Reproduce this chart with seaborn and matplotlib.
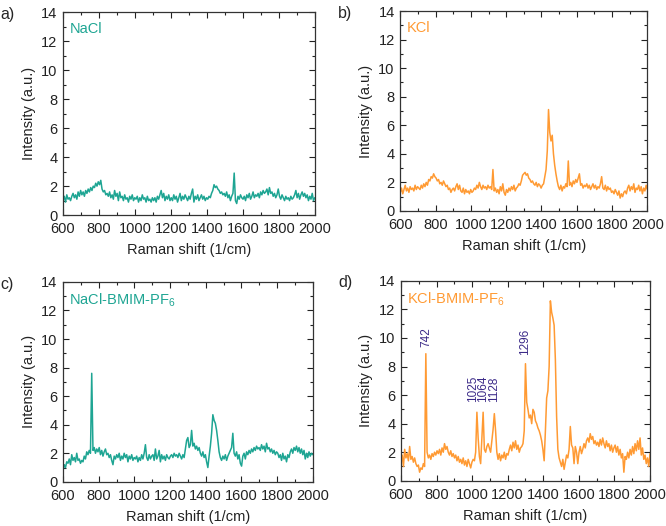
import numpy as np
import pandas as pd
import matplotlib
matplotlib.use("Agg")
import matplotlib.pyplot as plt
import seaborn as sns
from matplotlib.ticker import MultipleLocator

# Raman spectra (600-2000 1/cm, ~7 1/cm steps)
nacl = [1.0, 1.3, 0.9, 1.4, 1.1, 1.2, 1.0, 1.3, 1.5, 1.2, 1.4, 1.1, 1.6, 1.3, 1.7,
        1.4, 1.6, 1.3, 1.7, 1.5, 1.8, 1.6, 1.9, 1.7, 2.0, 1.9, 2.2, 2.0, 2.3,
        2.1, 2.4, 1.8, 1.6, 1.7, 1.4, 1.5, 1.3, 1.6, 1.2, 1.4, 1.1, 1.7, 1.3,
        1.5, 1.0, 1.6, 1.2, 1.3, 1.0, 1.4, 1.1, 1.2, 0.9, 1.3, 1.1, 1.4, 1.0, 1.2,
        1.1, 1.3, 0.9, 1.2, 1.0, 1.4, 1.1, 1.2, 0.9, 1.3, 1.0, 1.1, 0.9, 1.2,
        1.0, 1.2, 0.9, 1.3, 1.1, 1.4, 1.7, 1.2, 1.5, 1.0, 1.3, 1.1, 1.4, 1.0,
        1.2, 1.0, 1.4, 1.1, 1.3, 0.9, 1.2, 1.5, 1.0, 1.3, 1.1, 1.4, 1.2, 1.0, 1.3,
        1.1, 1.5, 1.8, 0.9, 1.3, 1.1, 1.4, 1.0, 1.2, 1.4, 1.1, 1.3, 1.0, 1.2,
        1.1, 1.3, 1.2, 1.5, 1.7, 2.1, 1.9, 2.0, 1.8, 1.7, 1.5, 1.6, 1.4, 1.5,
        1.3, 1.6, 1.2, 1.4, 1.0, 1.3, 1.5, 2.9, 1.0, 0.8, 1.3, 1.1, 1.4, 1.2,
        1.1, 1.3, 1.0, 1.4, 1.2, 1.5, 1.1, 1.3, 1.6, 1.2, 1.4, 1.3, 1.5, 1.2, 1.6,
        1.4, 1.7, 1.5, 1.6, 1.8, 1.4, 1.9, 1.5, 1.6, 1.3, 1.5, 1.2, 1.4, 1.8,
        1.3, 1.1, 1.4, 1.2, 1.0, 1.3, 1.1, 1.2, 1.0, 1.3, 1.1, 1.2, 1.4, 1.7,
        1.2, 1.5, 1.1, 1.4, 1.6, 1.3, 1.5, 1.2, 1.4, 1.0, 1.3, 1.1, 1.5, 1.0, 1.2]

kcl = [1.3, 1.6, 1.2, 1.5, 1.8, 1.4, 1.6, 1.3, 1.7, 1.5, 1.6, 1.4, 1.8, 1.5, 1.7,
       1.6, 1.5, 1.8, 1.6, 1.9, 1.7, 2.0, 1.8, 2.2, 2.1, 2.4, 2.3, 2.6, 2.4,
       2.3, 2.1, 2.2, 1.9, 2.0, 1.8, 2.1, 1.9, 1.7, 1.8, 1.5, 1.6, 1.3, 1.5,
       1.6, 1.4, 1.7, 1.9, 1.5, 1.8, 1.4, 1.3, 1.6, 1.2, 1.5, 1.3, 1.4, 1.2, 1.5,
       1.3, 1.4, 1.6, 1.5, 1.8, 1.6, 2.0, 1.7, 1.5, 1.8, 1.6, 1.7, 1.5, 1.8,
       1.6, 1.7, 1.5, 2.9, 1.4, 1.6, 1.3, 1.5, 1.2, 1.7, 1.4, 1.9, 1.3, 1.1,
       1.5, 1.3, 1.6, 1.4, 1.7, 1.5, 1.8, 1.4, 1.6, 1.7, 1.9, 1.8, 2.1, 2.5, 2.6,
       2.7, 2.5, 2.6, 2.3, 2.2, 2.0, 2.1, 1.9, 1.8, 2.0, 1.7, 1.9, 1.8, 1.6,
       1.8, 1.9, 2.4, 2.9, 4.2, 7.1, 5.5, 4.9, 5.3, 4.0, 3.2, 2.6, 2.1, 1.7,
       1.5, 1.8, 1.4, 1.7, 1.6, 1.9, 1.7, 3.5, 1.8, 2.0, 1.7, 2.1, 1.9, 2.2,
       2.0, 2.3, 2.6, 1.8, 1.9, 1.6, 1.8, 1.7, 1.9, 1.6, 1.8, 1.5, 1.7, 1.9, 1.6,
       1.8, 1.5, 1.7, 1.6, 1.9, 2.4, 1.6, 1.5, 1.8, 1.4, 1.7, 1.5, 1.6, 1.3,
       1.4, 1.2, 1.5, 1.3, 1.1, 1.4, 0.9, 1.2, 1.0, 1.3, 1.4, 1.2, 1.6, 1.8,
       1.4, 1.7, 1.5, 1.9, 1.3, 1.6, 1.5, 1.8, 1.4, 1.7, 1.2, 1.6, 1.4, 1.8, 1.5]

nacl_il = [0.8, 1.2, 1.0, 1.4, 1.3, 1.6, 1.2, 1.9, 1.5, 1.7, 1.4, 2.0, 1.5, 1.6, 1.3,
           1.5, 1.4, 1.8, 1.6, 2.1, 1.9, 2.2, 2.0, 7.6, 2.2, 2.4, 2.0, 2.3, 2.1,
           2.4, 1.9, 2.2, 1.8, 2.1, 2.3, 1.9, 2.0, 1.7, 1.9, 1.5, 1.2, 1.8, 1.6,
           1.9, 1.7, 2.0, 1.5, 1.8, 1.6, 2.0, 1.7, 1.9, 1.4, 1.8, 1.6, 1.9, 1.5, 1.7,
           1.6, 1.8, 1.4, 1.7, 1.5, 1.9, 1.6, 2.0, 2.6, 1.7, 1.5, 1.9, 1.6, 1.8,
           1.9, 1.5, 2.3, 1.6, 1.8, 2.2, 1.4, 1.9, 1.6, 1.8, 1.5, 1.9, 1.7, 1.6,
           1.8, 1.9, 1.7, 2.0, 1.8, 1.9, 1.7, 2.0, 1.8, 1.6, 1.9, 1.7, 2.3, 2.9, 3.1,
           2.4, 2.6, 3.6, 2.5, 2.7, 2.3, 2.5, 2.2, 2.4, 2.0, 1.8, 2.1, 1.7, 1.9,
           1.4, 1.0, 1.8, 2.5, 3.4, 4.7, 4.3, 4.1, 3.6, 2.9, 2.1, 1.7, 1.5, 1.8,
           1.6, 1.9, 1.5, 1.8, 2.0, 2.2, 2.4, 3.4, 2.0, 1.8, 2.1, 1.6, 1.9, 1.3,
           1.1, 1.8, 2.0, 1.6, 2.1, 1.9, 2.2, 2.0, 2.3, 2.1, 2.4, 2.2, 2.5, 2.3, 2.4,
           2.2, 2.6, 2.3, 2.5, 2.1, 2.7, 2.3, 2.4, 2.1, 2.3, 2.0, 2.2, 1.9, 2.1,
           2.0, 1.7, 1.9, 1.5, 2.0, 1.6, 1.8, 1.4, 1.9, 1.7, 2.1, 2.3, 2.0, 2.4,
           2.2, 2.5, 2.1, 2.4, 2.0, 2.3, 1.9, 2.2, 1.6, 2.0, 1.7, 2.1, 1.8, 2.0, 1.9]

kcl_il = [1.2, 1.8, 1.0, 2.2, 1.6, 1.9, 1.4, 2.4, 1.5, 1.7, 1.3, 1.6, 1.2, 1.0, 1.1,
          0.6, 0.9, 0.8, 1.2, 1.0, 8.9, 2.0, 1.6, 1.8, 1.5, 1.9, 1.7, 2.0, 1.8,
          2.1, 1.9, 2.2, 1.8, 2.3, 2.0, 2.6, 2.2, 2.4, 2.0, 1.8, 2.1, 1.7, 1.9,
          1.6, 1.8, 1.4, 1.7, 1.3, 1.5, 1.2, 1.6, 1.1, 1.4, 1.0, 1.5, 1.2, 0.9, 1.3,
          1.5, 1.4, 2.0, 4.8, 3.0, 1.7, 1.2, 3.0, 4.8, 2.2, 2.0, 2.4, 2.6, 2.3,
          2.0, 2.8, 3.6, 4.7, 3.5, 2.0, 1.5, 1.9, 1.4, 1.8, 1.6, 2.0, 1.5, 1.9,
          1.8, 2.2, 2.5, 2.1, 2.7, 2.3, 2.8, 2.2, 2.5, 2.0, 2.3, 2.4, 2.6, 3.5, 8.2,
          5.5, 5.0, 4.4, 4.6, 4.0, 5.0, 4.8, 4.2, 4.0, 3.7, 3.5, 3.2, 2.8, 2.2,
          1.4, 3.5, 5.8, 6.3, 8.0, 12.6, 11.8, 11.4, 10.9, 8.5, 4.5, 2.2, 1.6, 1.3,
          1.0, 1.5, 0.8, 1.3, 1.8, 1.6, 2.2, 3.8, 2.5, 2.3, 1.2, 2.4, 2.0, 1.2,
          2.0, 2.4, 1.9, 2.2, 2.6, 2.3, 2.8, 3.0, 2.7, 3.3, 2.9, 3.1, 2.6, 2.8, 2.5,
          2.7, 2.4, 2.9, 2.5, 3.0, 2.6, 2.3, 2.8, 2.4, 2.6, 2.1, 2.5, 2.0, 2.3,
          2.5, 2.0, 2.4, 1.8, 2.2, 1.6, 1.9, 0.6, 1.7, 1.5, 2.0, 1.6, 2.2, 1.8,
          2.4, 1.9, 2.6, 2.1, 2.8, 2.2, 3.0, 1.8, 2.3, 1.5, 1.8, 1.2, 1.6, 1.0, 1.9]

# peak labels in panel d; the three close ones share one text block
peak_labels = ["742", "1025\n1064\n1128", "1296"]
peak_label_x = [742, 1064, 1300]
peak_label_y = [9.4, 5.5, 8.8]

teal = "#1ea593"
orange = "#ff9a33"
purple = "#3b2a88"

sns.set_style("ticks")
plt.rcParams['font.family'] = ['Liberation Sans', 'DejaVu Sans']
plt.rcParams['mathtext.default'] = 'regular'
plt.rcParams['axes.edgecolor'] = '#333333'
plt.rcParams['axes.linewidth'] = 0.9

fig = plt.figure(figsize=(6.66, 5.26), dpi=100)

panels = [
    ("a)", "NaCl", nacl, teal, [0.0946, 0.591, 0.378, 0.386]),
    ("b)", "KCl", kcl, orange, [0.601, 0.599, 0.371, 0.380]),
    ("c)", "NaCl-BMIM-PF$_6$", nacl_il, teal, [0.0946, 0.084, 0.375, 0.380]),
    ("d)", "KCl-BMIM-PF$_6$", kcl_il, orange, [0.602, 0.086, 0.374, 0.380]),
]

for tag, name, vals, col, rect in panels:
    ax = fig.add_axes(rect)
    df = pd.DataFrame({"shift": np.linspace(600, 2000, len(vals)), "intensity": vals})
    sns.lineplot(data=df, x="shift", y="intensity", ax=ax, color=col, linewidth=1.1)
    ax.set_xlim(600, 2000)
    ax.set_ylim(0, 14)
    ax.xaxis.set_major_locator(MultipleLocator(200))
    ax.xaxis.set_minor_locator(MultipleLocator(100))
    ax.yaxis.set_major_locator(MultipleLocator(2))
    ax.yaxis.set_minor_locator(MultipleLocator(1))
    ax.tick_params(which="both", direction="in", top=True, right=True,
                   labelsize=10.5, colors="#222222", width=0.8)
    ax.tick_params(which="major", length=4)
    ax.tick_params(which="minor", length=2)
    ax.tick_params(axis="x", pad=5)
    ax.tick_params(axis="y", pad=4)
    ax.set_xlabel("Raman shift (1/cm)", fontsize=10.5, color="#222222", labelpad=5)
    ax.set_ylabel("Intensity (a.u.)", fontsize=10.5, color="#222222", labelpad=4)
    ax.text(0.025, 0.95, name, transform=ax.transAxes, color=col,
            fontsize=10.5, ha="left", va="top")
    pos = ax.get_position()
    fig.text(pos.x0 - 0.094, pos.y1 - 0.004, tag, fontsize=11.5, ha="left", va="center")
    if tag == "d)":
        for lab, px, py in zip(peak_labels, peak_label_x, peak_label_y):
            ax.text(px, py, lab, rotation=90, ha="center", va="bottom",
                    multialignment="left", linespacing=0.85,
                    color=purple, fontsize=8.5)

fig.savefig("out.png", dpi=100)
